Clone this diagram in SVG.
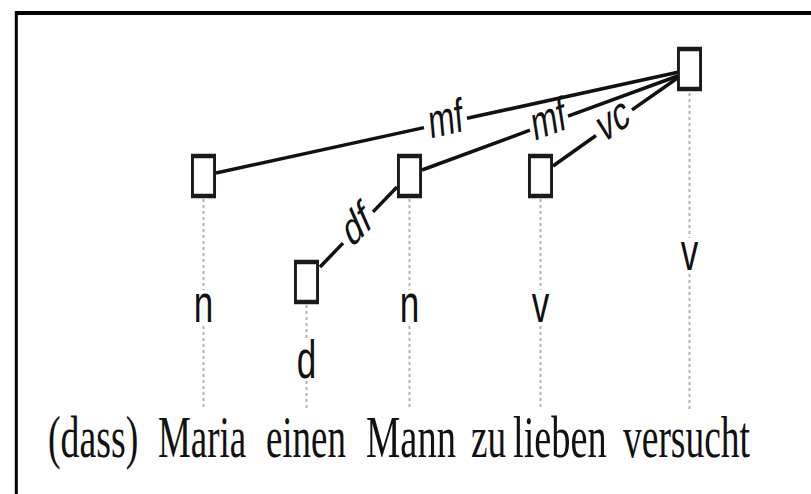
<svg xmlns="http://www.w3.org/2000/svg" width="811" height="494" viewBox="0 0 811 494">
<style>
.frame{stroke:#000;fill:none}
.box{fill:#fff;stroke:#1a1a1a;stroke-width:4.5}
.edge{stroke:#111;stroke-width:3.5;stroke-linecap:butt;fill:none}
.dot{stroke:#b4b4b4;stroke-width:2;stroke-dasharray:3 3;fill:none}
.lab{font-family:"Liberation Sans",Arial,sans-serif;font-size:54px;fill:#111;text-anchor:middle}
.elab{font-family:"Liberation Sans",Arial,sans-serif;font-size:48px;fill:#111;text-anchor:middle}
.word{font-family:"Liberation Serif","Times New Roman",serif;font-size:60px;fill:#111}
</style>
<rect width="811" height="494" fill="#fff"/>
<line class="frame" x1="16.3" y1="11" x2="16.3" y2="494" stroke-width="3"/>
<line class="frame" x1="15" y1="13" x2="811" y2="13" stroke-width="4"/>

<g id="guides">
<path class="dot" d="M203.5,199V290M203.5,326V410"/>
<path class="dot" d="M306.5,305V340M306.5,381V410"/>
<path class="dot" d="M409.5,199V290M409.5,326V410"/>
<path class="dot" d="M540.5,199V290M540.5,326V410"/>
<path class="dot" d="M689.5,93V238M689.5,274V410"/>
</g>

<g id="connectors">
<g id="e-maria-mf">
<path class="edge" d="M216,173L424,127.6M467,118.3L679,72"/>
<text class="elab" transform="translate(446,122.8) scale(0.65,1) rotate(-8.1)" y="12">mf</text>
</g>
<g id="e-mann-mf">
<path class="edge" d="M422,170L530,130.2M568,116.2L679,75.5"/>
<text class="elab" transform="translate(549,123.2) scale(0.65,1) rotate(-13.5)" y="12">mf</text>
</g>
<g id="e-lieben-vc">
<path class="edge" d="M553,166L596,135.5M632,109.9L679,77"/>
<text class="elab" transform="translate(614,122.7) scale(0.65,1) rotate(-24.8)" y="12">vc</text>
</g>
<g id="e-einen-df">
<path class="edge" d="M320,267L343,243.1M373,211.9L397,187"/>
<text class="elab" transform="translate(358,227.5) scale(0.65,1) rotate(-34.1)" y="12">df</text>
</g>
</g>

<g id="node-maria">
<rect class="box" x="-17" y="0" width="34" height="40" transform="translate(203.5,156) scale(0.65,1)"/>
<text class="lab" transform="translate(203.5,322) scale(0.65,1)">n</text>
</g>
<g id="node-einen">
<rect class="box" x="-17" y="0" width="34" height="40" transform="translate(306.5,262) scale(0.65,1)"/>
<text class="lab" transform="translate(306.5,378) scale(0.65,1)">d</text>
</g>
<g id="node-mann">
<rect class="box" x="-17" y="0" width="34" height="40" transform="translate(409.5,156) scale(0.65,1)"/>
<text class="lab" transform="translate(409.5,322) scale(0.65,1)">n</text>
</g>
<g id="node-lieben">
<rect class="box" x="-17" y="0" width="34" height="40" transform="translate(540.5,156) scale(0.65,1)"/>
<text class="lab" transform="translate(540.5,322) scale(0.65,1)">v</text>
</g>
<g id="node-versucht">
<rect class="box" x="-17" y="0" width="34" height="40" transform="translate(689.5,49) scale(0.65,1)"/>
<text class="lab" transform="translate(689.5,270) scale(0.65,1)">v</text>
</g>

<g id="sentence">
<text class="word" transform="translate(48,457) scale(0.63,1)">(dass)</text>
<text class="word" transform="translate(158,457) scale(0.615,1)">Maria</text>
<text class="word" transform="translate(266,457) scale(0.615,1)">einen</text>
<text class="word" transform="translate(366,457) scale(0.643,1)">Mann</text>
<text class="word" transform="translate(471,457) scale(0.62,1)">zu</text>
<text class="word" transform="translate(513,457) scale(0.64,1)">lieben</text>
<text class="word" transform="translate(623,457) scale(0.625,1)">versucht</text>
</g>
</svg>
